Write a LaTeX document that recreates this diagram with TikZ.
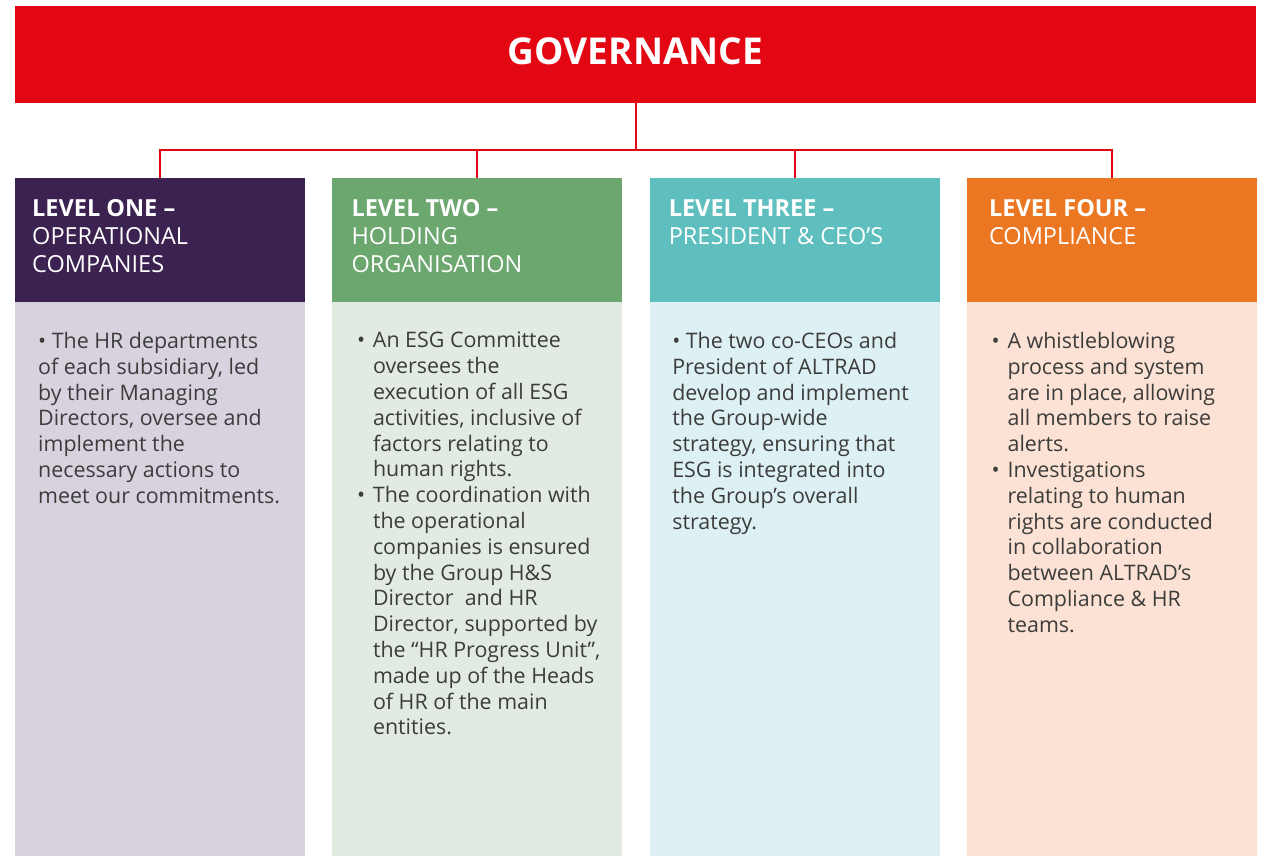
\documentclass[tikz,border=0pt]{standalone}
\usepackage{fontspec}
\setmainfont{Open Sans}
\usetikzlibrary{positioning}

\definecolor{govRed}{HTML}{E30613}
\definecolor{oneDark}{HTML}{3B2250}
\definecolor{oneLight}{HTML}{D8D2DF}
\definecolor{twoDark}{HTML}{6BA76E}
\definecolor{twoLight}{HTML}{E1EBE2}
\definecolor{threeDark}{HTML}{5FBFBF}
\definecolor{threeLight}{HTML}{DDF0F3}
\definecolor{fourDark}{HTML}{EC7723}
\definecolor{fourLight}{HTML}{FBE2D4}
\definecolor{bodyText}{HTML}{3C3C3B}

\newcommand{\bul}{\makebox[16pt][l]{•}}
\newcommand{\ind}{\hspace*{16pt}}

\begin{document}
\begin{tikzpicture}[x=1pt, y=-1pt,
    hdrbox/.style={rectangle, fill=#1, minimum width=290pt, minimum height=124pt, inner sep=0pt, outer sep=0pt},
    bodybox/.style={rectangle, fill=#1, minimum width=290pt, minimum height=554pt, inner sep=0pt, outer sep=0pt},
    hdrtext/.style={align=left, inner sep=0pt, text=white, font=\fontsize{23.5}{28}\selectfont},
    bodytext/.style={align=left, inner sep=0pt, text=bodyText, font=\fontsize{21.4}{25.8}\selectfont},
    conn/.style={draw=govRed, line width=2pt}]
        \useasboundingbox (0,0) rectangle (1263,856);

        \node[rectangle, fill=govRed, minimum width=1241pt, minimum height=97pt, inner sep=0pt, outer sep=0pt, anchor=north west] (banner) at (15,6) {};
        \node[inner sep=0pt, text=white, font=\fontsize{37}{44}\selectfont\bfseries] (govTitle) at (635.5,51.5) {GOVERNANCE};

        \node[hdrbox=oneDark, anchor=north west] (hdrOne) at (15,178) {};
        \node[hdrbox=twoDark] (hdrTwo) [right = 27.3pt of hdrOne] {};
        \node[hdrbox=threeDark] (hdrThree) [right = 27.3pt of hdrTwo] {};
        \node[hdrbox=fourDark] (hdrFour) [right = 27.3pt of hdrThree] {};

        \node[bodybox=oneLight] (bodyOne) [below = 0pt of hdrOne] {};
        \node[bodybox=twoLight] (bodyTwo) [below = 0pt of hdrTwo] {};
        \node[bodybox=threeLight] (bodyThree) [below = 0pt of hdrThree] {};
        \node[bodybox=fourLight] (bodyFour) [below = 0pt of hdrFour] {};

        % connectors
        \coordinate (bus) at (636,150);
        \draw[conn] (banner.south -| bus) -- (bus);
        \foreach \hd in {hdrOne, hdrTwo, hdrThree, hdrFour}
          \draw[conn] (bus) -| (\hd.north);

        % header texts
        \node[hdrtext] (hdrOneTxt) [below right = 21.5pt and 17pt of hdrOne.north west]
          {\textbf{LEVEL ONE –}\\OPERATIONAL\\COMPANIES};
        \node[hdrtext] (hdrTwoTxt) [below right = 21.5pt and 19pt of hdrTwo.north west]
          {\textbf{LEVEL TWO –}\\HOLDING\\ORGANISATION};
        \node[hdrtext] (hdrThreeTxt) [below right = 21.5pt and 19pt of hdrThree.north west]
          {\textbf{LEVEL THREE –}\\PRESIDENT \& CEO’S};
        \node[hdrtext] (hdrFourTxt) [below right = 21.5pt and 22pt of hdrFour.north west]
          {\textbf{LEVEL FOUR –}\\COMPLIANCE};

        % body texts
        \node[bodytext] (bodyOneTxt) [below right = 30pt and 23pt of bodyOne.north west]
          {• The HR departments\\of each subsidiary, led\\by their Managing\\Directors, oversee and\\implement the\\necessary actions to\\meet our commitments.};
        \node[bodytext] (bodyTwoTxt) [below right = 30pt and 24.5pt of bodyTwo.north west]
          {\bul An ESG Committee\\\ind oversees the\\\ind execution of all ESG\\\ind activities, inclusive of\\\ind factors relating to\\\ind human rights.\\
           \bul The coordination with\\\ind the operational\\\ind companies is ensured\\\ind by the Group H\&S\\\ind Director\ \ and HR\\\ind Director, supported by\\\ind the “HR Progress Unit”,\\\ind made up of the Heads\\\ind of HR of the main\\\ind entities.};
        \node[bodytext] (bodyThreeTxt) [below right = 30pt and 22.5pt of bodyThree.north west]
          {• The two co-CEOs and\\President of ALTRAD\\develop and implement\\the Group-wide\\strategy, ensuring that\\ESG is integrated into\\the Group’s overall\\strategy.};
        \node[bodytext] (bodyFourTxt) [below right = 30pt and 24.5pt of bodyFour.north west]
          {\bul A whistleblowing\\\ind process and system\\\ind are in place, allowing\\\ind all members to raise\\\ind alerts.\\
           \bul Investigations\\\ind relating to human\\\ind rights are conducted\\\ind in collaboration\\\ind between ALTRAD’s\\\ind Compliance \& HR\\\ind teams.};
      \end{tikzpicture}
\end{document}
